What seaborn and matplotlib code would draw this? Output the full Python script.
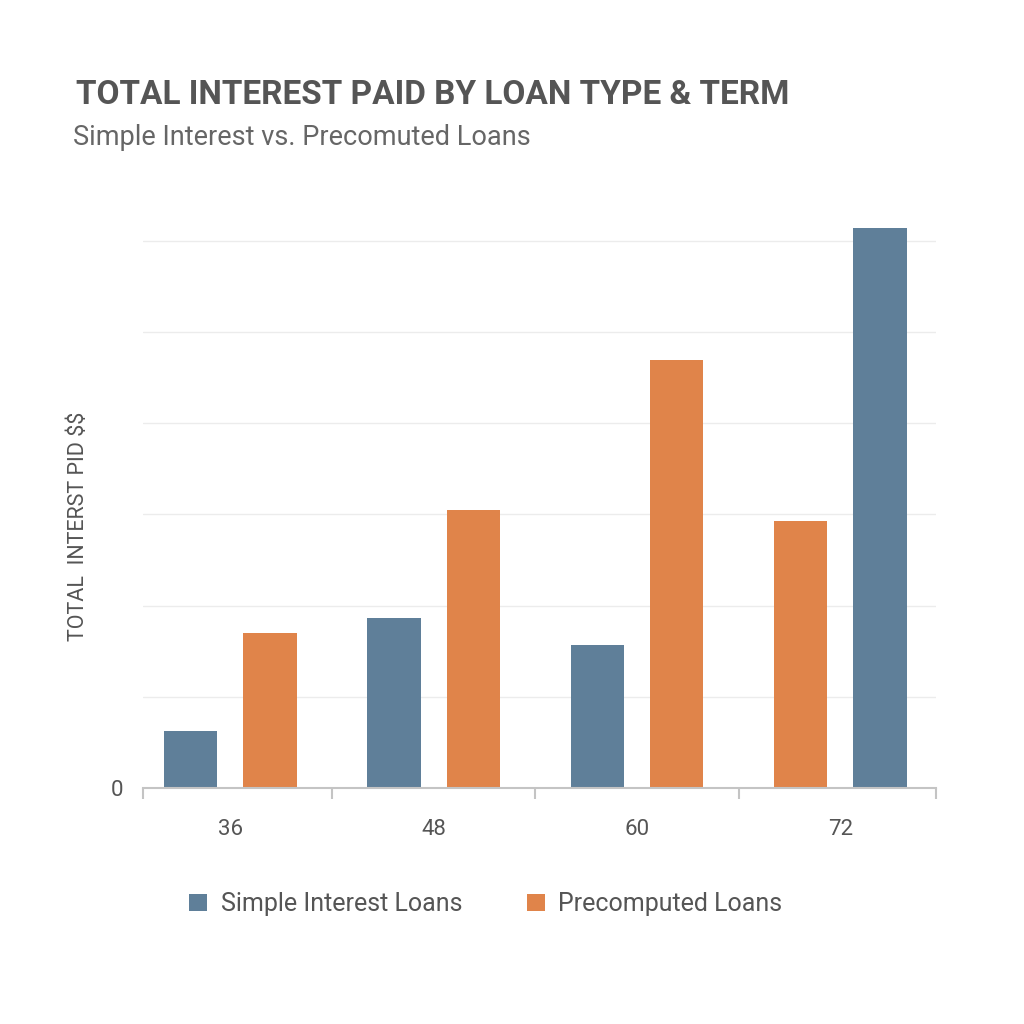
import matplotlib
matplotlib.use("Agg")
import matplotlib.pyplot as plt
import pandas as pd
import seaborn as sns
from matplotlib.patches import Patch
from matplotlib.ticker import FixedLocator, NullFormatter

TERMS = ["36", "48", "60", "72"]
SIMPLE_INTEREST = [630, 1860, 1570, 6140]
PRECOMPUTED = [1700, 3050, 4690, 2930]
# which series sits on the left of each pair (the 72 group is swapped)
LEFT_SERIES = ["Simple Interest Loans", "Simple Interest Loans", "Simple Interest Loans", "Precomputed Loans"]
GRID_VALUES = [1000, 2000, 3000, 4000, 5000, 6000]

COLORS = {"Simple Interest Loans": "#5f7f99", "Precomputed Loans": "#e0844a"}
TEXT_DARK = "#555555"


def build_frame() -> pd.DataFrame:
    rows = []
    for i, term in enumerate(TERMS):
        values = {"Simple Interest Loans": SIMPLE_INTEREST[i], "Precomputed Loans": PRECOMPUTED[i]}
        left = LEFT_SERIES[i]
        right = [s for s in values if s != left][0]
        rows.append({"term": term, "slot": "left", "series": left, "value": values[left]})
        rows.append({"term": term, "slot": "right", "series": right, "value": values[right]})
    return pd.DataFrame(rows)


sns.set_theme(style="white")
plt.rcParams["font.family"] = ["Roboto", "DejaVu Sans"]

df = build_frame()

fig = plt.figure(figsize=(10.24, 10.24), dpi=100, facecolor="white")
ax = fig.add_axes([0.1396, 0.2305, 0.7744, 0.5609])

sns.barplot(
    data=df, x="term", y="value", hue="slot", order=TERMS, hue_order=["left", "right"],
    width=0.78, gap=0.33, legend=False, ax=ax, saturation=1,
)

# colour each bar by the series it belongs to (patches come slot by slot, term by term)
ordered = df.assign(slot_i=df["slot"].map({"left": 0, "right": 1}),
                    term_i=df["term"].map(TERMS.index)).sort_values(["slot_i", "term_i"])
for patch, series in zip(ax.patches, ordered["series"]):
    patch.set_facecolor(COLORS[series])
    patch.set_edgecolor("none")

ax.set_xlim(-0.43, 3.47)
ax.set_ylim(0, 6300)

for v in GRID_VALUES:
    ax.axhline(v, color="#ececec", linewidth=1, zorder=0)

for side in ["top", "right", "left"]:
    ax.spines[side].set_visible(False)
ax.spines["bottom"].set_color("#c4c4c4")
ax.spines["bottom"].set_linewidth(1.5)

ax.set_yticks([0])
ax.set_yticklabels(["0"], fontsize=16, color=TEXT_DARK)
ax.tick_params(axis="y", left=False, length=0, pad=14)

ax.tick_params(axis="x", which="major", bottom=False, length=0, pad=22, labelsize=16,
               labelcolor=TEXT_DARK)
ax.xaxis.set_minor_locator(FixedLocator([-0.43, 0.5, 1.5, 2.5, 3.47]))
ax.xaxis.set_minor_formatter(NullFormatter())
ax.tick_params(axis="x", which="minor", bottom=True, length=8, width=1.5, color="#c4c4c4",
               direction="out")

ax.set_xlabel("")
ax.set_ylabel(r"TOTAL  INTERST PID \$\$", fontsize=15.5, color=TEXT_DARK)
ax.yaxis.set_label_coords(-0.068, 0.455)

fig.text(0.074, 0.907, "TOTAL INTEREST PAID BY LOAN TYPE & TERM", fontsize=24,
         fontweight="bold", color="#555555", ha="left", va="center")
fig.text(0.071, 0.866, "Simple Interest vs. Precomuted Loans", fontsize=19.5,
         color="#666666", ha="left", va="center")

handles = [Patch(facecolor=COLORS[s], edgecolor="none") for s in COLORS]
fig.legend(handles, list(COLORS), loc="center", bbox_to_anchor=(0.4746, 0.117), ncol=2,
           frameon=False, fontsize=18, labelcolor=TEXT_DARK, handlelength=0.7,
           handleheight=0.7, handletextpad=0.55, columnspacing=2.6)

fig.savefig("out.png", dpi=100, facecolor="white")
